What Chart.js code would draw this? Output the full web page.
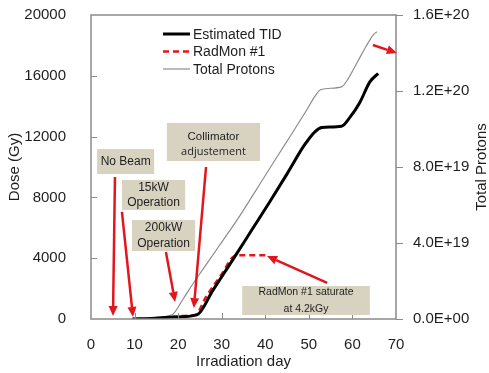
<!DOCTYPE html>
<html>
<head>
<meta charset="utf-8">
<script src="https://cdn.jsdelivr.net/npm/chart.js@4.4.1/dist/chart.umd.min.js"></script>
<style>
  body { margin: 0; background: #fff; }
  #wrap { width: 489px; height: 373px; }
</style>
</head>
<body>
<div id="wrap"><canvas id="chart" width="489" height="373"></canvas></div>
<script>
// values
let seriesNames = ['Estimated TID', 'RadMon #1', 'Total Protons']

let tidDays = [9.5, 14, 19, 24.3, 28, 30.5, 33, 37, 41, 45, 49, 51.5, 53, 57.5, 59.5, 61.7, 64, 65.9]
let tidDose = [0, 40, 130, 270, 1900, 3000, 4100, 5900, 7700, 9550, 11450, 12350, 12600, 12680, 13300, 14250, 15600, 16150]

let radDays = [18.5, 21, 23.9, 26.5, 30, 33, 35, 40.5]
let radDose = [120, 200, 260, 1500, 2950, 4150, 4200, 4200]

let protonDays = [9.5, 14, 18.6, 21, 23.2, 26, 29.5, 33.5, 37.2, 41, 45, 49.5, 51.5, 52.8, 57.5, 59, 61, 63.3, 64.8, 65.6]
let protons = [0, 8.0e17, 2.24e18, 1.0e19, 1.79e19, 2.72e19, 3.88e19, 5.2e19, 6.53e19, 7.92e19, 9.36e19, 1.1e20,
               1.176e20, 1.208e20, 1.222e20, 1.264e20, 1.346e20, 1.442e20, 1.496e20, 1.512e20]

let dayTicks = [0, 10, 20, 30, 40, 50, 60, 70]
let doseTicks = [0, 4000, 8000, 12000, 16000, 20000]
let protonTickLabels = ['0.0E+00', '4.0E+19', '8.0E+19', '1.2E+20', '1.6E+20']

// annotation boxes and arrows, placed in (day, dose) units
// each line: text, font, fraction of the box height for its centre
let notes = [
    { lines: [['No Beam', '12px Arial', 0.5]], x0: 1.4, x1: 14.5, y0: 9540, y1: 11180 },
    { lines: [['15kW', '12px Arial', 0.25], ['Operation', '12px Arial', 0.75]], x0: 7.1, x1: 21.6, y0: 7170, y1: 9145 },
    { lines: [['200kW', '12px Arial', 0.25], ['Operation', '12px Arial', 0.75]], x0: 9.4, x1: 23.9, y0: 4470, y1: 6510 },
    { lines: [['Collimator', '11.5px Arial', 0.37], ['adjustement', '11px "Open Sans"', 0.76]], x0: 17.4, x1: 38.8, y0: 10395, y1: 12900 },
    { lines: [['RadMon #1 saturate', '10.5px Arial', 0.22], ['at 4.2kGy', '10.5px Arial', 0.8]], x0: 34.7, x1: 64.0, y0: 260, y1: 2170 }
]
let arrows = [
    [5.5, 9340, 5.05, 200],
    [7.1, 7040, 9.64, 130],
    [17.2, 4410, 19.3, 1120],
    [26.4, 10000, 23.6, 720],
    [54.2, 2370, 40.4, 4140],
    [64.7, 18030, 70.2, 17500]
]

let frameColor = '#8a8a8a'
let textColor = '#1e1e1e'
let red = '#e3161e'


function pts(xs, ys) {
    return xs.map((x, i) => ({ x: x, y: ys[i] }))
}

// keep the plot box where the figure has it
function noPad(s) {
    s.paddingTop = 0
    s.paddingBottom = 0
    s.paddingLeft = 0
    s.paddingRight = 0
}


function drawArrow(ctx, x0, y0, x1, y1) {
    let ang = Math.atan2(y1 - y0, x1 - x0)
    let head = 10, half = 4.5
    let bx = x1 - head * Math.cos(ang), by = y1 - head * Math.sin(ang)
    ctx.beginPath()
    ctx.moveTo(x0, y0)
    ctx.lineTo(bx, by)
    ctx.stroke()
    ctx.beginPath()
    ctx.moveTo(x1, y1)
    ctx.lineTo(bx + half * Math.sin(ang), by - half * Math.cos(ang))
    ctx.lineTo(bx - half * Math.sin(ang), by + half * Math.cos(ang))
    ctx.closePath()
    ctx.fill()
}


let decor = {
    id: 'decor',
    afterDraw(chart) {
        let ctx = chart.ctx
        let area = chart.chartArea
        let sx = chart.scales.x, sy = chart.scales.y

        ctx.save()

        // frame and inward ticks
        ctx.strokeStyle = frameColor
        ctx.lineWidth = 1.5
        ctx.strokeRect(area.left, area.top, area.right - area.left, area.bottom - area.top)
        ctx.lineWidth = 1
        doseTicks.slice(1, -1).forEach(v => {
            let y = Math.round(sy.getPixelForValue(v)) + 0.5
            ctx.beginPath(); ctx.moveTo(area.left, y); ctx.lineTo(area.left + 6, y); ctx.stroke()
        })
        dayTicks.slice(1, -1).forEach(v => {
            let x = Math.round(sx.getPixelForValue(v)) + 0.5
            ctx.beginPath(); ctx.moveTo(x, area.bottom); ctx.lineTo(x, area.bottom - 6); ctx.stroke()
        })

        // legend inside the plot
        chart.data.datasets.forEach((ds, i) => {
            let y = area.top + 19 + i * 17.5
            let x = area.left + 72
            ctx.strokeStyle = ds.borderColor
            ctx.lineWidth = ds.borderWidth
            ctx.setLineDash(ds.borderDash || [])
            ctx.beginPath(); ctx.moveTo(x, y); ctx.lineTo(x + 27, y); ctx.stroke()
            ctx.setLineDash([])
            ctx.fillStyle = textColor
            ctx.font = '14px Arial'
            ctx.textAlign = 'left'
            ctx.textBaseline = 'middle'
            ctx.fillText(ds.label, x + 30, y + 1)
        })

        // text boxes
        notes.forEach(n => {
            let x0 = sx.getPixelForValue(n.x0), x1 = sx.getPixelForValue(n.x1)
            let y0 = sy.getPixelForValue(n.y1), y1 = sy.getPixelForValue(n.y0)
            ctx.fillStyle = '#d8d3c0'
            ctx.fillRect(x0, y0, x1 - x0, y1 - y0)
            ctx.fillStyle = textColor
            ctx.textAlign = 'center'
            ctx.textBaseline = 'middle'
            n.lines.forEach(l => {
                ctx.font = l[1]
                ctx.fillText(l[0], (x0 + x1) / 2, y0 + (y1 - y0) * l[2])
            })
        })

        // red arrows
        ctx.strokeStyle = red
        ctx.fillStyle = red
        ctx.lineWidth = 2.5
        arrows.forEach(a => {
            drawArrow(ctx, sx.getPixelForValue(a[0]), sy.getPixelForValue(a[1]),
                           sx.getPixelForValue(a[2]), sy.getPixelForValue(a[3]))
        })

        // right axis title, read bottom to top
        ctx.translate(482, (area.top + area.bottom) / 2)
        ctx.rotate(-Math.PI / 2)
        ctx.fillStyle = textColor
        ctx.font = '15px Arial'
        ctx.textAlign = 'center'
        ctx.textBaseline = 'middle'
        ctx.fillText(seriesNames[2], 0, 0)

        ctx.restore()
    }
}


let chart = new Chart(document.getElementById('chart'), {
    type: 'line',
    data: {
        datasets: [{
            label: seriesNames[0],
            data: pts(tidDays, tidDose),
            borderColor: '#000000',
            borderWidth: 3,
            yAxisID: 'y'
        }, {
            label: seriesNames[1],
            data: pts(radDays, radDose),
            borderColor: red,
            borderWidth: 2.5,
            borderDash: [6, 4],
            yAxisID: 'y'
        }, {
            label: seriesNames[2],
            data: pts(protonDays, protons),
            borderColor: '#8c8c8c',
            borderWidth: 1.2,
            yAxisID: 'y2'
        }]
    },
    options: {
        responsive: false,
        animation: false,
        layout: { padding: { top: 15, bottom: 0, left: 0, right: 0 } },
        elements: {
            point: { radius: 0 },
            line: { cubicInterpolationMode: 'monotone', fill: false }
        },
        scales: {
            x: {
                type: 'linear',
                min: 0,
                max: 70,
                afterFit: s => { s.height = 54; noPad(s) },
                afterBuildTicks: s => { s.ticks = dayTicks.map(v => ({ value: v })) },
                grid: { display: false },
                border: { display: false },
                ticks: {
                    color: textColor,
                    font: { family: 'Arial', size: 15 },
                    padding: 9,
                    maxRotation: 0,
                    callback: v => String(v)
                },
                title: {
                    display: true,
                    text: 'Irradiation day',
                    color: textColor,
                    font: { family: 'Arial', size: 15 },
                    padding: { top: 0, bottom: 2 }
                }
            },
            y: {
                position: 'left',
                min: 0,
                max: 20000,
                afterFit: s => { s.width = 91; noPad(s) },
                afterBuildTicks: s => { s.ticks = doseTicks.map(v => ({ value: v })) },
                grid: { display: false },
                border: { display: false },
                ticks: {
                    color: textColor,
                    font: { family: 'Arial', size: 15 },
                    padding: 17,
                    callback: v => String(v)
                },
                title: {
                    display: true,
                    text: 'Dose (Gy)',
                    color: textColor,
                    font: { family: 'Arial', size: 15 },
                    padding: { top: 6, bottom: 0 }
                }
            },
            y2: {
                position: 'right',
                min: 0,
                max: 1.6e20,
                afterFit: s => { s.width = 93; noPad(s) },
                afterBuildTicks: s => { s.ticks = protonTickLabels.map((_, i) => ({ value: i * 4e19 })) },
                grid: { display: true, drawOnChartArea: false, drawTicks: true, tickLength: 7, color: frameColor },
                border: { display: false },
                ticks: {
                    color: textColor,
                    font: { family: 'Arial', size: 15 },
                    padding: 10,
                    callback: (value, index) => protonTickLabels[index]
                }
            }
        },
        plugins: {
            legend: { display: false },
            tooltip: { enabled: false }
        }
    },
    plugins: [decor]
})
</script>
</body>
</html>
